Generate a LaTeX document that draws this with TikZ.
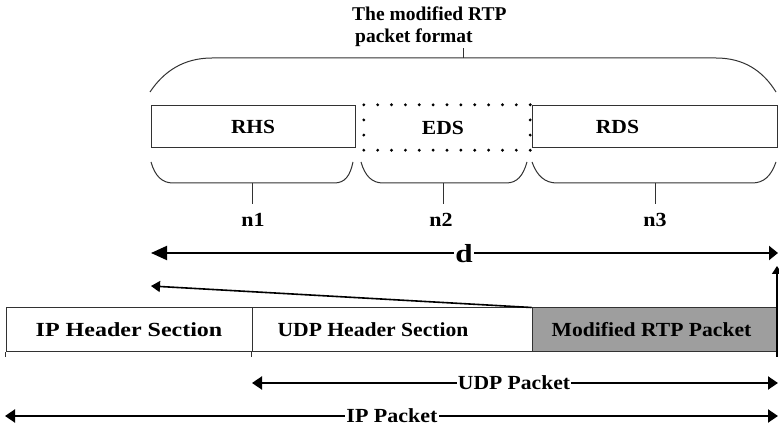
\documentclass[tikz,border=0pt]{standalone}
\usepackage{fontspec}
\usepackage{graphicx}
\setmainfont{Liberation Serif}
\usetikzlibrary{arrows.meta,calc}
\definecolor{rtpgray}{RGB}{158,158,158}
\definecolor{edge}{RGB}{50,50,50}
\newcommand{\hs}[2]{\scalebox{#1}[1]{#2}}
\tikzset{
  lbl/.style={font=\bfseries\fontsize{20}{22}\selectfont, inner sep=0pt},
  boxcell/.style={draw=edge, line width=1pt, inner sep=0pt, font=\bfseries\fontsize{20}{22}\selectfont},
  bracel/.style={draw=edge, line width=1pt},
  dimarrow/.style={line width=2pt, {Triangle[length=10pt,width=13pt]}-{Triangle[length=10pt,width=13pt]}},
  thinarrow/.style={line width=1.3pt, -{Triangle[length=8pt,width=10pt]}},
  slantarrow/.style={line width=1.6pt, -{Triangle[length=9pt,width=11pt]}},
  dimlbl/.style={font=\bfseries\fontsize{20}{22}\selectfont, fill=white, inner sep=1pt},
}
\begin{document}
\begin{tikzpicture}[x=1pt,y=-1pt]
\useasboundingbox (0,0) rectangle (779,427);
% title
\node[lbl, anchor=base west] (title1) at (352,21) {\fontsize{19.5}{22}\selectfont The modified RTP};
\node[lbl, anchor=base west] (title2) at (355,43) {\fontsize{19.5}{22}\selectfont packet format};
% big brace
\draw[bracel] (150,92) .. controls (164,71) and (184,58) .. (212,58) -- (716,58)
   .. controls (744,58) and (763,71) .. (776,92);
\coordinate (tt1) at (463,58);
\coordinate (tt2) at (463,48);
\draw[bracel] (tt1) -- (tt2);
% top boxes
\node[boxcell, minimum width=204pt, minimum height=42pt] (rhs) at (253,127) {\hs{1.07}{RHS}};
\node[lbl, minimum width=166pt, minimum height=45pt] (eds) at (447,127.5) {\hs{1.08}{EDS}\hspace*{8pt}};
\node[boxcell, minimum width=245pt, minimum height=42pt] (rds) at (654.5,127) {\hs{1.08}{RDS}\hspace*{74pt}};
% dotted EDS border
\foreach \i in {0,...,12} {
  \fill ($(eds.north west)!\i/12!(eds.north east)$) circle (1.6pt);
  \fill ($(eds.south west)!\i/12!(eds.south east)$) circle (1.6pt);
}
\foreach \i in {1,2} {
  \fill ($(eds.north west)!\i/3!(eds.south west)$) circle (1.6pt);
  \fill ($(eds.north east)!\i/3!(eds.south east)$) circle (1.6pt);
}
% lower braces
\draw[bracel] (151,162) .. controls (155,176) and (162,183) .. (173,183) -- (334,183)
   .. controls (345,183) and (350,176) .. (353,162);
\draw[bracel] (361,162) .. controls (365,176) and (372,183) .. (383,183) -- (506,183)
   .. controls (517,183) and (523,176) .. (527,162);
\draw[bracel] (532,162) .. controls (537,176) and (545,183) .. (557,183) -- (752,183)
   .. controls (764,183) and (771,176) .. (776,162);
% ticks and n labels
\node[lbl, anchor=base] (n1) at (253,227) {\hs{1.1}{n1}};
\node[lbl, anchor=base] (n2) at (441,227) {\hs{1.1}{n2}};
\node[lbl, anchor=base] (n3) at (655,227) {\hs{1.1}{n3}};
\coordinate (b1) at (252,183);
\coordinate (b2) at (443,183);
\coordinate (b3) at (655,183);
\draw[bracel] (b1) -- ++(0,21);
\draw[bracel] (b2) -- ++(0,21);
\draw[bracel] (b3) -- ++(0,21);
% d arrow
\coordinate (dl) at (151,253);
\coordinate (dr) at (778,253);
\draw[line width=2pt, {Triangle[length=16pt,width=14pt]}-{Triangle[length=9pt,width=14pt]}] (dl) -- (dr);
\node[font=\bfseries\fontsize{26}{28}\selectfont, fill=white, inner sep=1.5pt] (d) at (464,254) {\hs{1.2}{d}};
% table
\node[boxcell, minimum width=246pt, minimum height=44pt] (ip) at (129,330) {\hs{1.2}{IP Header Section}};
\node[boxcell, minimum width=280pt, minimum height=44pt] (udp) at (392,330) {\hs{1.08}{UDP Header Section}\hspace*{38pt}};
\node[boxcell, fill=rtpgray, minimum width=245pt, minimum height=44pt] (rtp) at (654.5,330) {\hs{1.08}{Modified RTP Packet}\hspace*{6pt}};
\draw[draw=edge, line width=1pt] (ip.south west) -- ++(0,5);
\draw[draw=edge, line width=1pt] (udp.south west) -- ++(0,5);
% arrows from RTP packet
\coordinate (vbot) at (777,357);
\coordinate (vtop) at (777,266);
\draw[thinarrow] (vbot) -- (vtop);
\coordinate (slt) at (151,286);
\draw[slantarrow] (rtp.north west) -- (slt);
% UDP packet arrow
\coordinate (ul) at (252,383);
\coordinate (ur) at (778,383);
\draw[dimarrow] (ul) -- (ur);
\node[dimlbl] (udplbl) at (514,383) {\hs{1.08}{UDP Packet}};
% IP packet arrow
\coordinate (il) at (5,416);
\coordinate (ir) at (778,416);
\draw[dimarrow] (il) -- (ir);
\node[dimlbl] (iplbl) at (392,416) {\hs{1.1}{IP Packet}};
\end{tikzpicture}
\end{document}
